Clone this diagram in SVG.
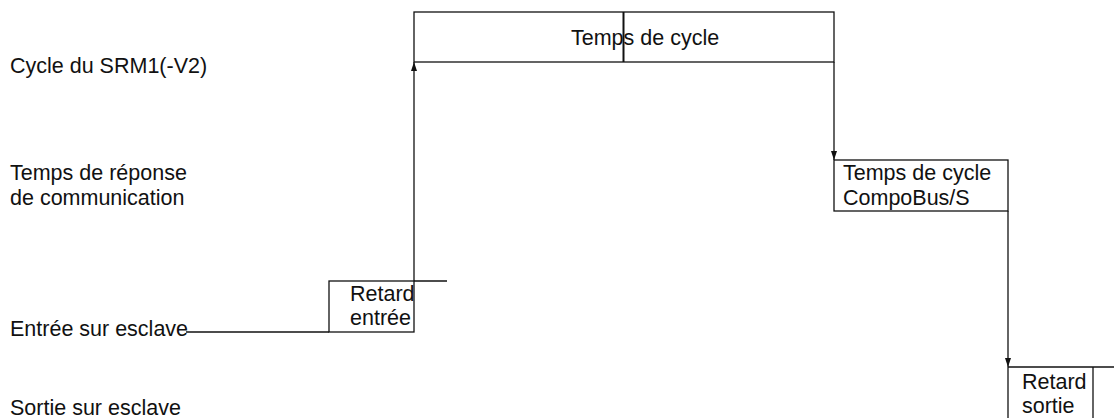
<svg xmlns="http://www.w3.org/2000/svg" width="1114" height="418" viewBox="0 0 1114 418">
<style>
text{font-family:"Liberation Sans",Arial,sans-serif;font-size:21.5px;fill:#111}
.ln{stroke:#111;stroke-width:1.3;fill:none}
.box{stroke:#111;stroke-width:1.3;fill:none}
</style>
<defs>
<marker id="ah" viewBox="0 0 9 8" refX="9" refY="4" markerWidth="9" markerHeight="8" markerUnits="userSpaceOnUse" orient="auto">
<path d="M0,1 L9,4 L0,7 z" fill="#111"/>
</marker>
</defs>
<g id="labels">
<text x="10" y="73">Cycle du SRM1(-V2)</text>
<text x="10" y="180">Temps de réponse</text>
<text x="10" y="205">de communication</text>
<text x="10" y="336">Entrée sur esclave</text>
<text x="10" y="415">Sortie sur esclave</text>
</g>
<g id="node-cycle">
<rect class="box" x="414" y="12" width="420" height="50"/>
<line x1="623.5" y1="12" x2="623.5" y2="62" stroke="#111" stroke-width="2"/>
<text x="571" y="45">Temps de cycle</text>
</g>
<g id="node-compobus">
<rect class="box" x="834" y="160" width="174" height="51"/>
<text x="843" y="180">Temps de cycle</text>
<text x="843" y="205">CompoBus/S</text>
</g>
<g id="node-retard-entree">
<rect class="box" x="329" y="281" width="85" height="51"/>
<text x="350" y="301">Retard</text>
<text x="350" y="325">entrée</text>
</g>
<g id="node-retard-sortie">
<line class="ln" x1="1093" y1="367" x2="1093" y2="418"/>
<line class="ln" x1="1008" y1="367" x2="1008" y2="418"/>
<text x="1022" y="389">Retard</text>
<text x="1022" y="413">sortie</text>
</g>
<g id="connectors">
<line class="ln" x1="186" y1="332" x2="329" y2="332"/>
<line class="ln" x1="414" y1="281" x2="447" y2="281"/>
<line class="ln" x1="414" y1="281" x2="414" y2="62" marker-end="url(#ah)"/>
<line class="ln" x1="834" y1="62" x2="834" y2="160" marker-end="url(#ah)"/>
<line class="ln" x1="1008" y1="211" x2="1008" y2="367" marker-end="url(#ah)"/>
<line class="ln" x1="1008" y1="367" x2="1114" y2="367"/>
</g>
</svg>
